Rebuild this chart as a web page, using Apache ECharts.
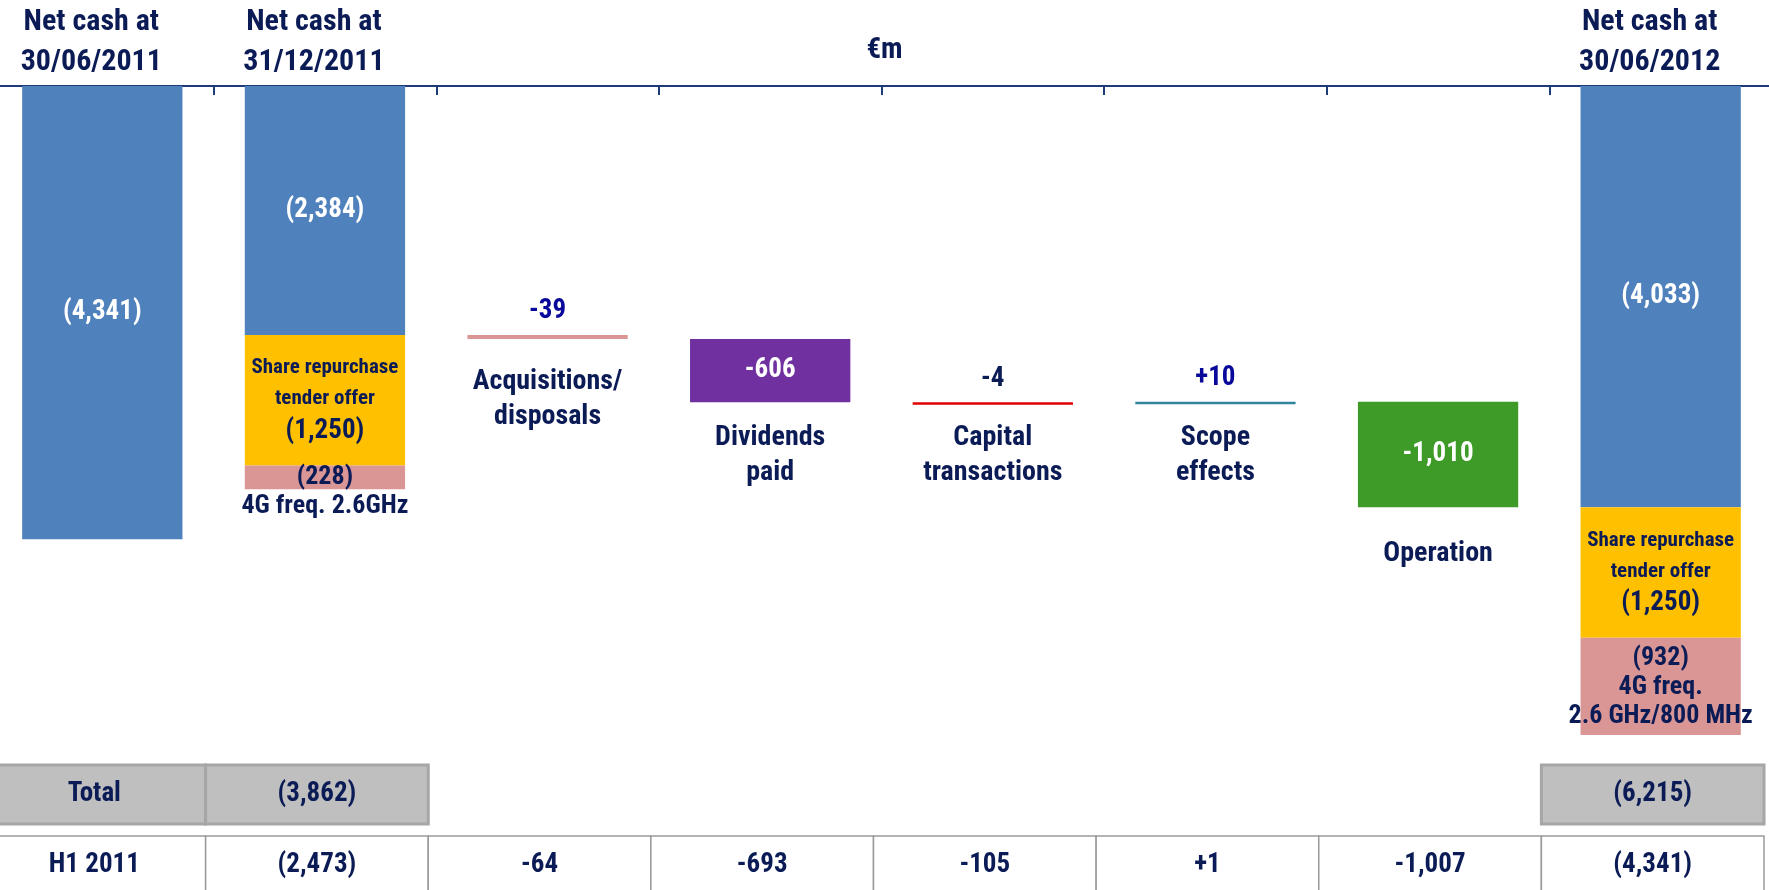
<!DOCTYPE html>
<html>
<head>
<meta charset="utf-8">
<script src="https://cdn.jsdelivr.net/npm/echarts@6/dist/echarts.min.js"></script>
<style>
  html, body { margin: 0; padding: 0; background: #fff; }
  #chart { width: 1769px; height: 890px; }
</style>
</head>
<body>
<div id="chart"></div>
<script>
// Net cash bridge, €m
const categories = ['Net cash at\n30/06/2011', 'Net cash at\n31/12/2011', 'Acquisitions/\ndisposals', 'Dividends\npaid', 'Capital\ntransactions', 'Scope\neffects', 'Operation', 'Net cash at\n30/06/2012'];
const netCash = [4341, 2384, null, null, null, null, null, 4033];
const shareRepurchase = [null, 1250, null, null, null, null, null, 1250];
const freq4G = [null, 228, null, null, null, null, null, 932];
const freqNotes = ['', '4G freq. 2.6GHz', '', '', '', '', '', '4G freq.\n2.6 GHz/800 MHz'];
const movements = [null, null, -39, -606, -4, 10, -1010, null];
const totalRow = ['Total', '(3,862)', null, null, null, null, null, '(6,215)'];
const h1Row = ['H1 2011', '(2,473)', '-64', '-693', '-105', '+1', '-1,007', '(4,341)'];

const FONT = "'Liberation Sans Narrow', 'Arial Narrow', 'Roboto Condensed', 'DejaVu Sans Condensed', 'Liberation Sans', sans-serif";
const NAVY = '#0b1b56';
const BLUE_TXT = '#08089a';
const movementColors = [null, null, '#d99694', '#7030a0', '#e00000', '#31859c', '#3e9b27', null];
const movementLabelColors = [null, null, BLUE_TXT, '#ffffff', NAVY, BLUE_TXT, '#ffffff', null];
// extra space between a floating bar and its caption
const captionGap = [0, 0, 25, 18, 18, 18, 29, 0];
// offset of the 4G note from the top of its segment
const freqLabelGap = [0, -2, 0, 0, 0, 0, 0, 6];

const fmt = v => v.toLocaleString('en-US');
const paren = v => '(' + fmt(v) + ')';

// Floating bars: the bridge starts from the blue part of the 31/12/2011 position
const base = [], delta = [], bottoms = [];
let level = netCash[1];
movements.forEach((m, i) => {
  if (m == null) { base.push(null); delta.push(null); bottoms.push(null); return; }
  const next = level - m;
  base.push(Math.min(level, next));
  delta.push({
    value: Math.abs(m),
    raw: m,
    itemStyle: { color: movementColors[i] },
    label: Math.abs(m) > 100
      ? { position: 'inside', color: movementLabelColors[i], fontSize: 27 }
      : { position: 'top', distance: 10, color: movementLabelColors[i], fontSize: 27 }
  });
  bottoms.push(Math.max(level, next));
  level = next;
});

const freqItems = freq4G.map((v, i) => v == null ? null : { value: v, label: { distance: freqLabelGap[i] } });

// Category captions under each floating bar
const captions = bottoms.map((b, i) => b == null ? null : {
  value: [i, b], name: categories[i], label: { distance: captionGap[i] }
});

// Table cells
const tableCells = [];
totalRow.forEach((t, i) => { if (t != null) tableCells.push([i, 0, t]); });
h1Row.forEach((t, i) => { if (t != null) tableCells.push([i, 1, t]); });

const chart = echarts.init(document.getElementById('chart'), null, { renderer: 'canvas' });

chart.setOption({
  animation: false,
  backgroundColor: '#ffffff',
  textStyle: { fontFamily: FONT },
  title: {
    text: '€m', left: 'center', top: 31,
    textStyle: { fontFamily: FONT, fontSize: 29, fontWeight: 'bold', color: NAVY }
  },
  grid: [
    { left: -9, width: 1781, top: 86, height: 731, outerBoundsMode: 'none' },
    { left: -17, width: 1781, top: 765, height: 130, outerBoundsMode: 'none' }
  ],
  xAxis: [
    {
      type: 'category', gridIndex: 0, position: 'top', data: categories,
      axisLine: { show: true, lineStyle: { color: '#1f3a78', width: 2 } },
      axisTick: { show: true, inside: true, length: 9, lineStyle: { color: '#1f3a78', width: 2 } },
      axisLabel: {
        interval: 0, margin: 4, fontFamily: FONT, fontSize: 30, fontWeight: 'bold',
        lineHeight: 40, color: NAVY, padding: [0, 22, 0, 0],
        formatter: (v, i) => movements[i] == null ? v : ''
      }
    },
    { type: 'category', gridIndex: 1, data: categories, show: false }
  ],
  yAxis: [
    { type: 'value', gridIndex: 0, inverse: true, min: 0, max: 7000, show: false },
    { type: 'value', gridIndex: 1, inverse: true, min: 0, max: 2, show: false }
  ],
  series: [
    {
      name: 'Base', type: 'bar', stack: 'bridge', barWidth: '72%',
      itemStyle: { color: 'transparent' }, data: base, silent: true
    },
    {
      name: 'Net cash', type: 'bar', stack: 'bridge', barWidth: '72%',
      itemStyle: { color: '#4f81bd' }, data: netCash,
      label: {
        show: true, position: 'inside', color: '#ffffff', fontFamily: FONT,
        fontSize: 27, fontWeight: 'bold', formatter: p => paren(p.value)
      }
    },
    {
      name: 'Share repurchase tender offer', type: 'bar', stack: 'bridge', barWidth: '72%',
      itemStyle: { color: '#ffc000' }, data: shareRepurchase,
      label: {
        show: true, position: 'inside', fontFamily: FONT, color: NAVY,
        formatter: p => '{s|Share repurchase}\n{s|tender offer}\n{v|' + paren(p.value) + '}',
        rich: {
          s: { fontFamily: FONT, fontSize: 21, fontWeight: 'bold', color: NAVY, lineHeight: 31 },
          v: { fontFamily: FONT, fontSize: 27, fontWeight: 'bold', color: NAVY, lineHeight: 33 }
        }
      }
    },
    {
      name: '4G frequencies', type: 'bar', stack: 'bridge', barWidth: '72%',
      itemStyle: { color: '#d99694' }, data: freqItems,
      label: {
        show: true, position: 'insideTop', fontFamily: FONT, fontSize: 26,
        fontWeight: 'bold', color: NAVY, lineHeight: 29,
        formatter: p => paren(p.value) + '\n' + freqNotes[p.dataIndex]
      }
    },
    {
      name: 'Movement', type: 'bar', stack: 'bridge', barWidth: '72%', barMinHeight: 2.5, data: delta,
      label: {
        show: true, fontFamily: FONT, fontWeight: 'bold',
        formatter: p => {
          const m = p.data.raw;
          return (m > 0 ? '+' : '') + fmt(m);
        }
      }
    },
    {
      name: 'Captions', type: 'scatter', symbolSize: 0, data: captions, silent: true,
      itemStyle: { opacity: 1 },
      label: {
        show: true, position: 'bottom', fontFamily: FONT, fontSize: 28, opacity: 1,
        fontWeight: 'bold', color: NAVY, lineHeight: 35, formatter: p => p.name
      }
    },
    {
      name: 'Table', type: 'custom', xAxisIndex: 1, yAxisIndex: 1, data: tableCells,
      clip: false, silent: true,
      renderItem: (params, api) => {
        const cat = api.value(0), row = api.value(1);
        const text = tableCells[params.dataIndex][2];
        const pt = api.coord([cat, row]);
        const w = api.size([1, 0])[0];
        const rowH = api.size([0, 1])[1];
        const gap = 6;
        const y = pt[1] + (row ? gap : 0);
        const h = rowH - gap;
        const isTotal = row === 0;
        return {
          type: 'group',
          children: [
            {
              type: 'rect',
              shape: { x: pt[0] - w / 2, y: y, width: w, height: h },
              style: {
                fill: isTotal ? '#bfbfbf' : '#ffffff',
                stroke: isTotal ? '#a6a6a6' : '#9a9a9a',
                lineWidth: isTotal ? 3 : 1.5
              }
            },
            {
              type: 'text',
              style: {
                text: text, x: pt[0], y: y + 29, align: 'center', verticalAlign: 'middle',
                fontFamily: FONT, fontSize: 27, fontWeight: 'bold', fill: NAVY
              }
            }
          ]
        };
      }
    }
  ]
});
</script>
</body>
</html>
